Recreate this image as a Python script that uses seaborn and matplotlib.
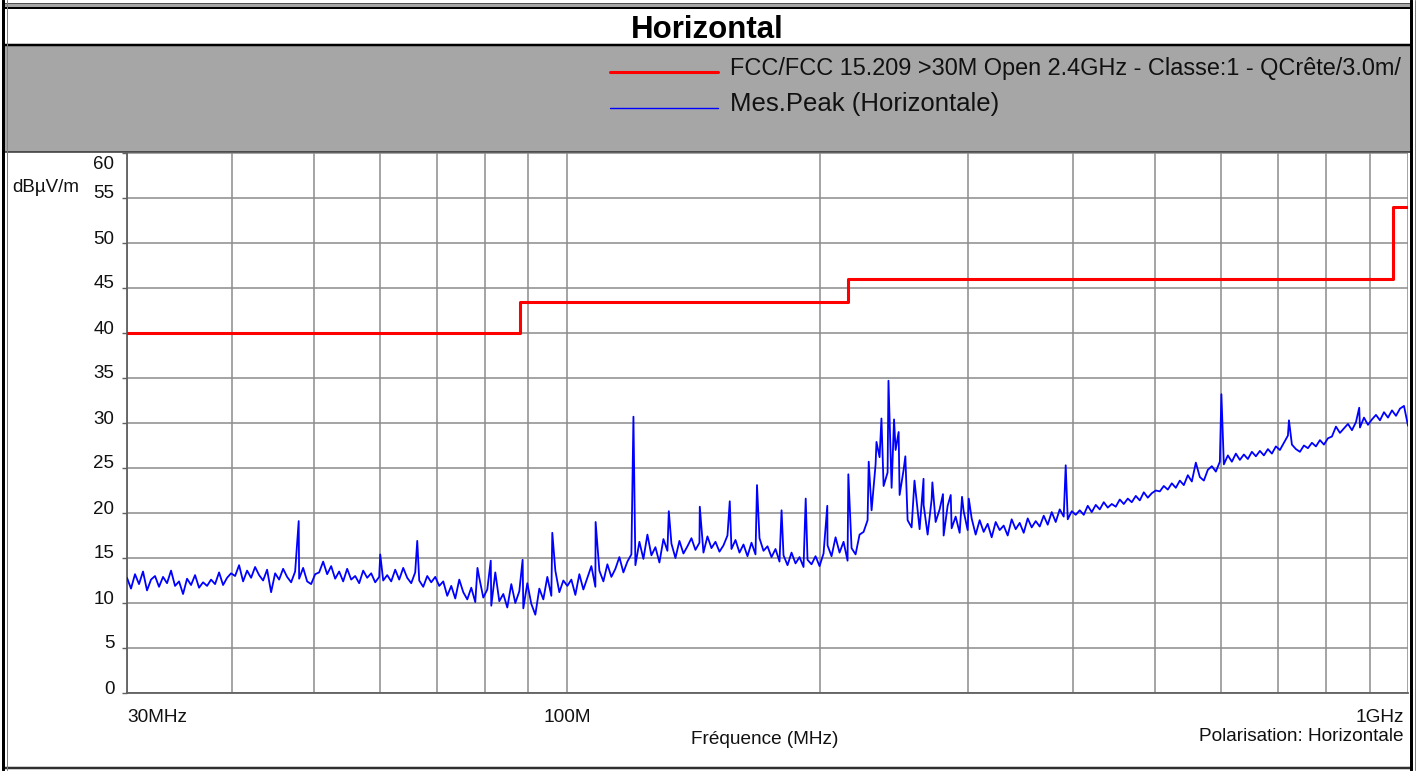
import numpy as np
import pandas as pd
import matplotlib
matplotlib.use("Agg")
import matplotlib.pyplot as plt
import matplotlib.transforms as mtransforms
from matplotlib.patches import Rectangle
import seaborn as sns

sns.set_style("white")
plt.rcParams['font.family'] = ['Liberation Sans', 'DejaVu Sans']

# --- données ---------------------------------------------------------------
# limite FCC 15.209 (QCrête, 3 m), en marches
limit_freq = [30, 88, 216, 960, 1000]
limit_level = [40.0, 43.5, 46.0, 54.0, 54.0]

# mesure peak horizontale : niveaux relevés le long du balayage 30 MHz - 1 GHz
trace_levels = [
    # 30 - 40 MHz
    12.8, 11.6, 13.2, 12.1, 13.5, 11.4, 12.6, 13.0, 11.8, 12.9, 12.2, 13.6, 11.9, 12.4,
    11.0, 12.7, 12.0, 13.1, 11.7, 12.3, 11.9, 12.6, 12.1, 13.4, 12.0, 12.8, 13.3,
    # 40 - 50 MHz
    13.0, 14.2, 12.4, 13.6, 12.8, 14.0, 13.1, 12.5, 13.7, 11.2, 13.3, 12.6, 13.8, 12.9,
    12.3, 13.5, 12.7, 13.9, 12.4, 12.1, 13.2,
    # 50 - 60 MHz
    13.4, 14.6, 13.2, 14.1, 12.7, 13.5, 12.4, 13.8, 12.6, 13.0, 12.2, 13.6, 12.8, 13.3,
    12.3, 12.9, 12.5,
    # 60 - 70 MHz
    13.1, 12.4, 13.7, 12.6, 13.9, 12.8, 12.2, 13.4, 12.5, 11.8, 13.0, 12.3, 12.9, 11.9,
    # 70 - 88 MHz
    12.4, 10.8, 11.9, 10.5, 12.6, 11.2, 10.4, 11.7, 10.1, 12.8, 10.6, 11.5, 9.7, 13.4,
    10.2, 11.0, 9.5, 12.1, 10.0, 11.3, 9.4, 12.2, 9.9,
    # 88 - 100 MHz
    8.7, 11.6, 10.4, 12.9, 10.8, 13.6, 11.2, 12.5, 11.9,
    # 100 - 120 MHz
    12.6, 10.9, 13.2, 11.5, 12.8, 14.1, 11.8, 13.6, 12.4, 14.3, 12.9, 13.8, 15.1, 13.4,
    14.6, 15.4, 14.2,
    # 120 - 200 MHz
    16.8, 14.9, 17.6, 15.3, 16.2, 14.5, 17.1, 15.8, 16.6, 15.0, 16.9, 15.5, 16.3,
    17.2, 15.9, 16.7, 15.6, 17.4, 16.1, 16.8, 15.7, 16.4, 17.5, 16.0, 17.0, 15.6, 16.5, 15.2,
    16.7, 15.4, 17.2, 15.8, 16.3, 15.1, 16.0, 14.6, 15.3, 14.2, 15.6, 14.4, 15.1, 14.0,
    14.8, 14.3, 15.2, 14.1, 15.5,
    # 200 - 225 MHz
    16.4, 15.2, 17.3, 15.6, 16.8, 14.7, 16.1, 15.4, 17.6,
    # 225 - 257 MHz (bosse)
    17.9, 19.2, 20.3, 25.4, 26.2, 23.0, 24.5, 22.8, 27.0, 22.0, 24.8, 19.2, 18.4,
    # 257 - 300 MHz
    22.4, 18.2, 20.9, 17.6, 21.5, 19.0, 20.4, 17.5, 20.8, 18.3, 19.6, 17.8, 20.2, 18.1, 19.4,
    # 300 - 400 MHz
    17.6, 19.2, 17.9, 18.8, 17.3, 19.0, 18.1, 18.6, 17.5, 19.3, 18.2, 18.9, 17.8, 19.4,
    18.4, 19.1, 18.5, 19.7, 18.7, 20.1, 19.0, 20.4, 19.6, 19.3, 20.2, 19.8,
    # 400 - 500 MHz
    20.3, 19.8, 20.8, 20.1, 20.9, 20.4, 21.2, 20.6, 21.0, 20.7, 21.5, 21.0, 21.6, 21.2,
    21.9, 21.4, 22.3, 21.7, 22.2, 22.5,
    # 500 - 600 MHz
    22.4, 23.0, 22.6, 23.3, 22.8, 23.6, 23.1, 24.2, 23.5, 25.6, 24.0, 23.6, 24.8, 25.2,
    24.6, 25.7, 25.4,
    # 600 - 700 MHz
    26.4, 25.7, 26.6, 25.9, 26.5, 26.0, 26.8, 26.3, 26.9, 26.4, 27.1, 26.6, 27.4, 27.0,
    # 700 - 800 MHz
    27.8, 28.6, 27.6, 27.1, 26.8, 27.5, 27.2, 27.8, 27.4, 28.1, 27.6, 28.3,
    # 800 - 900 MHz
    28.5, 29.6, 28.9, 29.4, 29.9, 29.2, 30.1, 29.5, 30.6, 29.8, 30.4,
    # 900 MHz - 1 GHz
    30.9, 30.3, 31.2, 30.6, 31.4, 30.8, 31.6, 31.9, 29.7,
]

# raies isolées (fréquence MHz, niveau dBµV/m)
spike_freq = [48.0, 60.0, 66.4, 78.3, 81.2, 88.6, 96.1, 108.2, 120.0, 132.2, 143.9,
              156.2, 168.3, 180.0, 192.3, 204.0, 216.1, 228.5, 233.4, 236.6, 241.2,
              244.9, 248.0, 252.6, 259.0, 265.5, 272.0, 280.0, 286.0, 295.0, 300.5,
              391.8, 600.0, 721.9, 875.0]
spike_level = [19.1, 15.4, 16.9, 13.9, 14.7, 14.8, 17.8, 19.0, 30.7, 20.2, 20.7,
               21.3, 23.1, 20.3, 21.6, 20.8, 24.3, 25.7, 27.9, 30.5, 34.7,
               30.4, 29.0, 26.3, 23.6, 23.8, 23.4, 22.1, 22.0, 21.8, 21.6,
               25.3, 33.2, 30.3, 31.7]

y_ticks = list(range(0, 61, 5))
x_ticks = [30, 100, 1000]
x_labels = ['30MHz', '100M', '1GHz']
x_minor = [40, 50, 60, 70, 80, 90, 200, 300, 400, 500, 600, 700, 800, 900]

limit_name = "FCC/FCC 15.209 >30M Open 2.4GHz - Classe:1 - QCrête/3.0m/"
trace_name = "Mes.Peak (Horizontale)"

# --- tables ----------------------------------------------------------------
sweep = pd.DataFrame({'freq': np.geomspace(30, 1000, len(trace_levels)),
                      'level': trace_levels})
spikes = pd.DataFrame({'freq': spike_freq, 'level': spike_level})
df_trace = pd.concat([sweep, spikes]).sort_values('freq').reset_index(drop=True)
df_limit = pd.DataFrame({'freq': limit_freq, 'level': limit_level})

# --- figure ----------------------------------------------------------------
W, H = 1425, 771
fig = plt.figure(figsize=(W / 100, H / 100), dpi=100)
fig.patch.set_facecolor('white')

# calque de fond en pixels (cadre, bandeaux, légende)
bg = fig.add_axes([0, 0, 1, 1], zorder=0)
bg.set_xlim(0, W)
bg.set_ylim(H, 0)
bg.axis('off')

px = 0.72  # 1 px en points
bg.add_patch(Rectangle((4, 3), 1407, 5, fc='#a6a6a6', ec='none'))
bg.add_patch(Rectangle((4, 45), 1407, 107, fc='#a6a6a6', ec='none'))
bg.plot([4, 1411], [3, 3], color='#505050', lw=1 * px)
bg.plot([4, 1411], [8, 8], color='black', lw=2 * px)
bg.plot([4, 1411], [45, 45], color='black', lw=2.5 * px)
bg.plot([4, 1411], [152, 152], color='#303030', lw=1.5 * px)
bg.plot([4, 1411], [768, 768], color='#303030', lw=2.5 * px)
bg.plot([3, 3], [0, 770], color='black', lw=3 * px)
bg.plot([7, 7], [0, 770], color='#808080', lw=1 * px)
bg.plot([1411, 1411], [0, 770], color='black', lw=3 * px)
bg.plot([1415, 1415], [0, 770], color='#808080', lw=1 * px)

bg.text(707, 37.5, "Horizontal", ha='center', va='baseline', fontsize=22.5,
        fontweight='bold', color='black')

# légende
bg.plot([610, 718], [71.5, 71.5], color='#ff0000', lw=2.2)
bg.plot([610, 718], [107.5, 107.5], color='#0000ff', lw=1.0)
bg.text(730, 75.5, limit_name, ha='left', va='baseline', fontsize=16.9, color='#111111')
bg.text(730, 111, trace_name, ha='left', va='baseline', fontsize=18.5, color='#111111')

bg.text(12.5, 192.5, "dBµV/m", ha='left', va='baseline', fontsize=13.5, color='#111111')
bg.text(765, 744, "Fréquence (MHz)", ha='center', va='baseline', fontsize=13.7, color='#111111')
bg.text(1404, 741, "Polarisation: Horizontale", ha='right', va='baseline', fontsize=13.7,
        color='#111111')

# zone de tracé
x0, x1, y0, y1 = 127, 1408, 153, 693
ax = fig.add_axes([x0 / W, 1 - y1 / H, (x1 - x0) / W, (y1 - y0) / H], zorder=1)
ax.set_facecolor('white')

sns.lineplot(data=df_limit, x='freq', y='level', color='#ff0000', lw=2.2,
             drawstyle='steps-post', estimator=None, ax=ax, zorder=4)
sns.lineplot(data=df_trace, x='freq', y='level', color='#0000ff', lw=1.3,
             estimator=None, ax=ax, zorder=3)

ax.set_xscale('log')
ax.set_xlim(30, 1000)
ax.set_ylim(0, 60)
ax.set_xlabel('')
ax.set_ylabel('')

ax.set_xticks(x_ticks)
ax.set_xticklabels(x_labels)
ax.set_xticks(x_minor, minor=True)
ax.set_xticklabels([], minor=True)
ax.set_yticks(y_ticks)
ax.set_yticklabels([str(v) for v in y_ticks])

ax.grid(True, which='both', axis='x', color='#8c8c8c', lw=1.1)
ax.grid(True, which='major', axis='y', color='#8c8c8c', lw=1.1)
ax.set_axisbelow(True)

ax.tick_params(axis='x', which='major', length=7.5, width=1, color='#606060',
               pad=4, labelsize=13.7, labelcolor='#111111', direction='out')
ax.tick_params(axis='x', which='minor', length=0)
ax.tick_params(axis='y', length=3.6, width=1, color='#606060', pad=5.5,
               labelsize=13.5, labelcolor='#111111', direction='out', left=True)

xl = ax.get_xticklabels()
xl[0].set_ha('left')
xl[2].set_ha('right')
xl[2].set_transform(xl[2].get_transform() +
                    mtransforms.ScaledTranslation(-4 / 100, 0, fig.dpi_scale_trans))
for lbl in ax.get_yticklabels():
    lbl.set_va('baseline')
    dy = -16 if lbl.get_text() == '60' else -0.5
    lbl.set_transform(lbl.get_transform() +
                      mtransforms.ScaledTranslation(0, dy / 100, fig.dpi_scale_trans))

for side in ['left', 'bottom']:
    ax.spines[side].set_color('#606060')
    ax.spines[side].set_linewidth(1.3)
ax.spines['top'].set_visible(False)
ax.spines['right'].set_visible(False)
if ax.get_legend() is not None:
    ax.get_legend().remove()

fig.savefig('out.png', dpi=100)
